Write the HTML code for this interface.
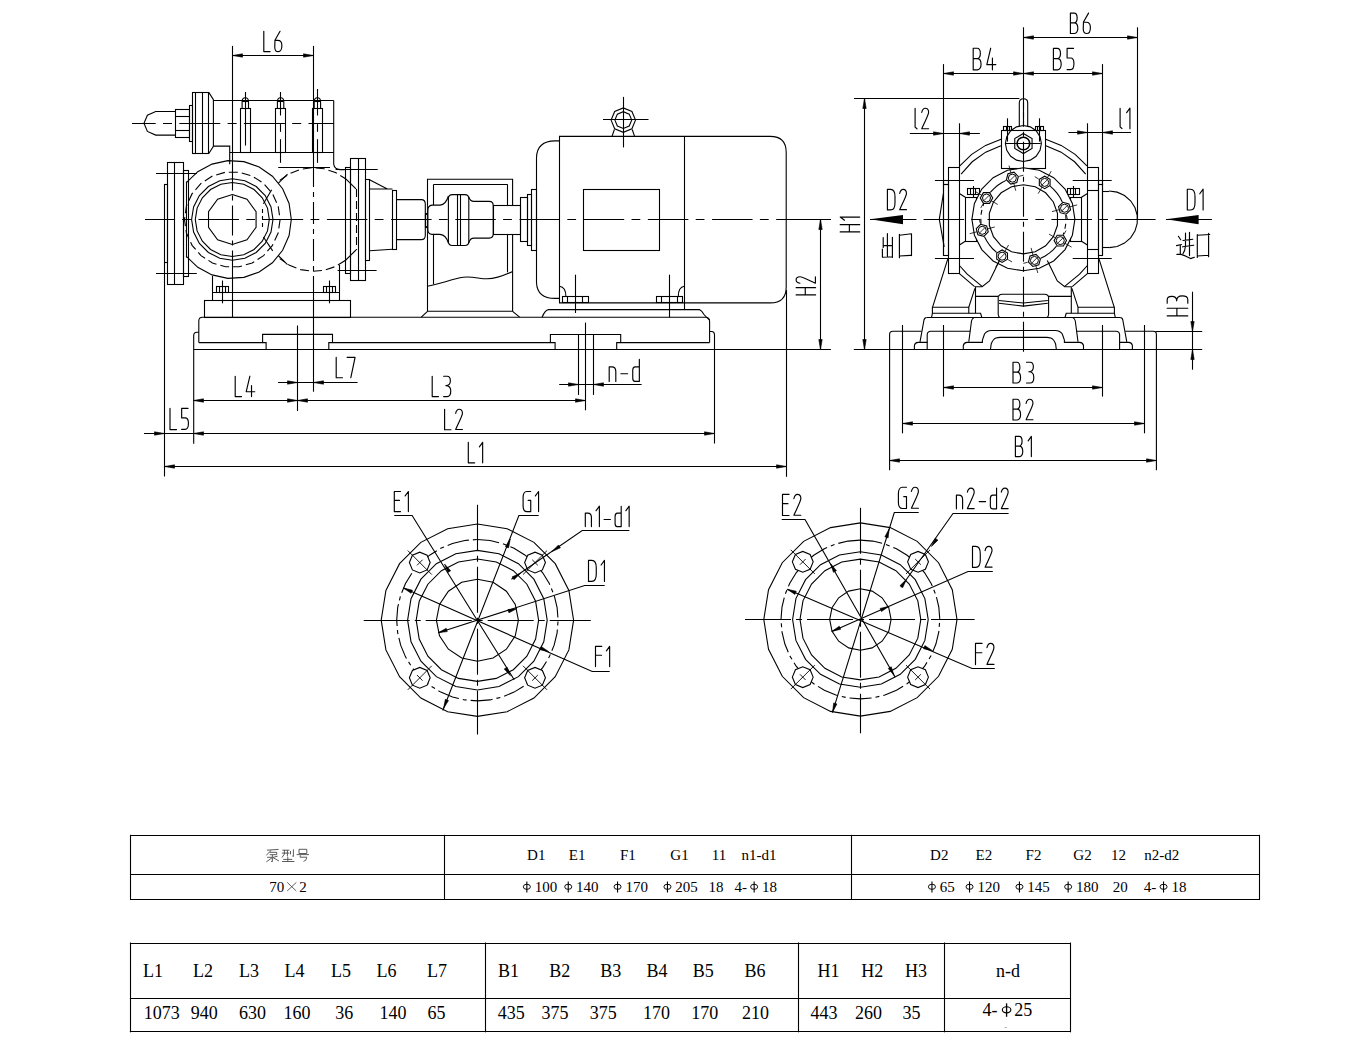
<!DOCTYPE html>
<html><head><meta charset="utf-8"><style>
html,body{margin:0;padding:0;background:#fff;}
body{width:1351px;height:1047px;overflow:hidden;font-family:"Liberation Serif",serif;}
svg{position:absolute;left:0;top:0;}
svg line,svg polyline,svg polygon,svg rect,svg circle,svg path{fill:none;stroke:#000;stroke-width:1.1;}
svg .fa{fill:#000;stroke:#000;stroke-width:0.6;}
svg .tx{stroke-width:1.15;stroke-linecap:round;stroke-linejoin:round;}
svg .ts{fill:#000;stroke:none;font-family:"Liberation Serif",serif;}
svg .cj{stroke:#4a4a4a;stroke-width:0.9;}
</style></head><body>
<svg width="1351" height="1047" viewBox="0 0 1351 1047">
<line x1="145" y1="219.5" x2="830.8" y2="219.5" stroke-dasharray="40.5 7.3 8.8 7.6" stroke-dashoffset="10.7"/>
<line x1="132" y1="123.5" x2="334" y2="123.5" stroke-dasharray="41 7.3 9 7.3" stroke-dashoffset="17.3"/>
<path d="M175.1,111.5 L155.7,111.5 L147.4,115.2 L144,123.3 L147.4,131.4 L155.7,135.1 L175.1,135.1"/>
<rect x="175.5" y="109.5" width="14" height="28"/>
<line x1="175.1" y1="116.5" x2="189.4" y2="116.5"/>
<line x1="175.1" y1="130.5" x2="189.4" y2="130.5"/>
<rect x="189.5" y="105.5" width="3" height="36"/>
<rect x="192.5" y="92.5" width="16" height="61"/>
<line x1="195.5" y1="92.4" x2="195.5" y2="153.5"/>
<line x1="202.5" y1="92.4" x2="202.5" y2="153.5"/>
<path d="M208.8,92.4 L213.4,99.6 L213.4,146.3 L208.8,153.5"/>
<line x1="213.4" y1="100.5" x2="333.7" y2="100.5"/>
<path d="M213.4,146.1 L229.7,146.1 L229.7,164.2"/>
<line x1="229.7" y1="152.5" x2="333.7" y2="152.5"/>
<path d="M333.7,100.4 L333.7,164.2 Q334.5,169.5 340,169.6 L344.8,169.6"/>
<rect x="240.5" y="108.5" width="10" height="44"/>
<path d="M242.1,108.5 L242.1,101.8 Q242.1,97.8 245.3,97.8 Q248.5,97.8 248.5,101.8 L248.5,108.5"/>
<line x1="242.1" y1="101.5" x2="248.5" y2="101.5"/>
<rect x="275.5" y="108.5" width="10" height="44"/>
<path d="M277.4,108.5 L277.4,101.8 Q277.4,97.8 280.6,97.8 Q283.8,97.8 283.8,101.8 L283.8,108.5"/>
<line x1="277.4" y1="101.5" x2="283.8" y2="101.5"/>
<rect x="312.5" y="108.5" width="10" height="44"/>
<path d="M314.2,108.5 L314.2,101.8 Q314.2,97.8 317.4,97.8 Q320.6,97.8 320.6,101.8 L320.6,108.5"/>
<line x1="314.2" y1="101.5" x2="320.6" y2="101.5"/>
<line x1="245.5" y1="92" x2="245.5" y2="145.6"/>
<line x1="280.5" y1="92" x2="280.5" y2="115.5"/>
<line x1="280.5" y1="124.1" x2="280.5" y2="131.8"/>
<line x1="280.5" y1="139.2" x2="280.5" y2="162.8"/>
<line x1="317.5" y1="89" x2="317.5" y2="115.5"/>
<line x1="317.5" y1="124.1" x2="317.5" y2="131.8"/>
<line x1="317.5" y1="139.2" x2="317.5" y2="162.8"/>
<line x1="232.5" y1="45.9" x2="232.5" y2="160.5"/>
<line x1="232.5" y1="160.5" x2="232.5" y2="280" stroke-dasharray="30 5 5 5" stroke-dashoffset="0"/>
<line x1="232.5" y1="280" x2="232.5" y2="317.3"/>
<line x1="313.5" y1="45.9" x2="313.5" y2="165"/>
<line x1="313.5" y1="165" x2="313.5" y2="286" stroke-dasharray="22 5 5 5" stroke-dashoffset="0"/>
<line x1="313.5" y1="286" x2="313.5" y2="391.7"/>
<line x1="232.3" y1="55.5" x2="313.7" y2="55.5"/>
<polygon class="fa" points="232.5,55.5 242.5,53.8 242.5,57.2"/>
<polygon class="fa" points="313.5,55.5 303.5,57.2 303.5,53.8"/>
<path class="tx" d="M 263.8,31.3 L 263.8,51.6 L 270.09,51.6 M 280.04,31.3 L 274.96,40.23 L 274.76,47.13 C 274.76,51.19 276.79,51.6 278.21,51.6 C 280.45,51.6 281.87,49.98 281.87,45.51 C 281.87,41.86 280.24,40.44 277.81,40.44 L 274.96,40.44"/>
<polyline points="186.1,182.8 197.78,171.66 212.04,164.09 227.81,160.67 243.93,161.66 259.17,166.97 272.4,176.22 282.63,188.71 289.09,203.51 291.3,219.5 289.09,235.49 282.63,250.29 272.4,262.78 259.17,272.03 243.93,277.34 227.81,278.33 212.04,274.91 197.78,267.34 186.1,256.2"/>
<line x1="186.5" y1="181.5" x2="186.5" y2="257.6"/>
<polygon points="280.1,219.5 278.16,232.97 272.51,245.34 263.6,255.62 252.16,262.98 239.1,266.81 225.5,266.81 212.44,262.98 201,255.62 192.09,245.34 186.44,232.97 184.5,219.5 186.44,206.03 192.09,193.66 201,183.38 212.44,176.02 225.5,172.19 239.1,172.19 252.16,176.02 263.6,183.38 272.51,193.66 278.16,206.03" stroke-dasharray="9 4"/>
<polygon points="273,219.5 271.01,232.08 265.23,243.42 256.22,252.43 244.88,258.21 232.3,260.2 219.72,258.21 208.38,252.43 199.37,243.42 193.59,232.08 191.6,219.5 193.59,206.92 199.37,195.58 208.38,186.57 219.72,180.79 232.3,178.8 244.88,180.79 256.22,186.57 265.23,195.58 271.01,206.92"/>
<polygon points="269.3,219.5 267.49,230.93 262.23,241.25 254.05,249.43 243.73,254.69 232.3,256.5 220.87,254.69 210.55,249.43 202.37,241.25 197.11,230.93 195.3,219.5 197.11,208.07 202.37,197.75 210.55,189.57 220.87,184.31 232.3,182.5 243.73,184.31 254.05,189.57 262.23,197.75 267.49,208.07"/>
<polygon points="232.3,194.5 246.99,199.27 256.08,211.77 256.08,227.23 246.99,239.73 232.3,244.5 217.61,239.73 208.52,227.23 208.52,211.77 217.61,199.27"/>
<line x1="156" y1="173.5" x2="196.8" y2="173.5"/>
<line x1="156" y1="273.5" x2="196.8" y2="273.5"/>
<path d="M271.7,189.8 L263.4,203.7"/>
<path d="M263.4,237 L272.7,250.9"/>
<line x1="262.5" y1="209" x2="262.5" y2="230" stroke-dasharray="4 3"/>
<polyline points="279.72,180.41 289.51,173.69 300.58,169.39 312.34,167.72 324.17,168.77 335.45,172.49 345.59,178.68" stroke-dasharray="9 4"/>
<polyline points="345.59,260.32 335.45,266.51 324.17,270.23 312.34,271.28 300.58,269.61 289.51,265.31 279.72,258.59" stroke-dasharray="9 4"/>
<path d="M278.2,183.3 L287.5,174.1"/>
<path d="M278.2,255.5 L287.5,264.6"/>
<line x1="278.2" y1="167.5" x2="330" y2="167.5"/>
<path d="M344.8,177.8 L356,188.9"/>
<line x1="356.5" y1="188.9" x2="356.5" y2="250" stroke-dasharray="8 4"/>
<path d="M356,250 L344.8,261"/>
<rect x="167.5" y="162.5" width="16" height="122"/>
<line x1="174.5" y1="162.4" x2="174.5" y2="284.5"/>
<rect x="164.5" y="184.5" width="3" height="78"/>
<rect x="183.5" y="170.5" width="5" height="106"/>
<line x1="164.5" y1="262.9" x2="164.5" y2="476.5"/>
<rect x="350.5" y="158.5" width="15" height="122"/>
<line x1="358.5" y1="158.3" x2="358.5" y2="280.5"/>
<rect x="345.5" y="167.5" width="5" height="106"/>
<rect x="365.5" y="179.5" width="4" height="81"/>
<line x1="335.6" y1="169.5" x2="377.7" y2="169.5"/>
<line x1="337.6" y1="270.5" x2="376.6" y2="270.5"/>
<line x1="212.5" y1="276" x2="212.5" y2="300.4"/>
<line x1="339.5" y1="265" x2="339.5" y2="300.4"/>
<line x1="212.5" y1="292.5" x2="339.5" y2="292.5"/>
<rect x="204.5" y="300.5" width="146" height="17"/>
<line x1="222.5" y1="280.5" x2="222.5" y2="303.3"/>
<rect x="216.5" y="286.5" width="12" height="6"/>
<line x1="219.5" y1="286.3" x2="219.5" y2="292.5"/>
<line x1="225.5" y1="286.3" x2="225.5" y2="292.5"/>
<line x1="329.5" y1="280.5" x2="329.5" y2="303.3"/>
<rect x="323.5" y="286.5" width="12" height="6"/>
<line x1="326.5" y1="286.3" x2="326.5" y2="292.5"/>
<line x1="332.5" y1="286.3" x2="332.5" y2="292.5"/>
<path d="M369.5,179.8 L387.4,189 M369.5,189 L392.5,189 M369.5,250.7 L392.5,249.3"/>
<rect x="392.5" y="190.5" width="4" height="59"/>
<path d="M396.6,199.6 L421.3,199.6 Q425.3,199.6 425.3,204 L425.3,235.2 Q425.3,239.6 421.3,239.6 L396.6,239.6"/>
<rect x="425.5" y="213.5" width="2" height="14"/>
<path d="M427.5,311.3 L427.5,179.2 L512.6,179.2 L512.6,311.3 Z"/>
<path d="M421.3,317.2 L427.5,311.3 M512.6,311.3 L519.6,317.2"/>
<line x1="433.5" y1="184.4" x2="433.5" y2="284.3"/>
<line x1="507.5" y1="184.4" x2="507.5" y2="272.3"/>
<line x1="433.6" y1="184.5" x2="507.6" y2="184.5"/>
<path d="M427.5,286.2 C440,284 452,279 463.2,277.3 C472,276 480,279 487.3,278.8 C496,278.5 505,275 512.6,271.4"/>
<path d="M427.9,205.1 L448.4,205.1 L448.4,234.4 L427.9,234.4 Z M448.4,194.6 L468.8,194.6 L468.8,245.5 L448.4,245.5 Z M468.8,201.4 L493.2,201.4 L493.2,238.1 L468.8,238.1 Z M493.2,205.1 L520.6,205.1 L520.6,234.4 L493.2,234.4 Z" style="fill:#fff;stroke:none;"/>
<line x1="427.9" y1="219.5" x2="520.6" y2="219.5" stroke-dasharray="40.5 7.3 8.8 7.6" stroke-dashoffset="293.6"/>
<path d="M448.4,196 Q446,204.5 440,205.1 L432,205.1 Q428,205.5 427.9,210 L427.9,230 Q428,234 432,234.4 L440,234.4 Q446,235 448.4,243"/>
<path d="M452.5,194.6 L464.8,194.6 Q468.8,194.6 468.8,198.6 L468.8,241.5 Q468.8,245.5 464.8,245.5 L452.5,245.5 Q448.4,245.5 448.4,241.5 L448.4,198.6 Q448.4,194.6 452.5,194.6 Z"/>
<line x1="457.5" y1="194.6" x2="457.5" y2="245.5"/>
<line x1="460.5" y1="194.6" x2="460.5" y2="245.5"/>
<path d="M468.8,197 Q470,201.4 474,201.4 L489.2,201.4 Q493.2,201.4 493.2,205.4 L493.2,234.1 Q493.2,238.1 489.2,238.1 L474,238.1 Q470,238.1 468.8,243"/>
<rect x="493.5" y="205.5" width="27" height="29"/>
<rect x="520.5" y="197.5" width="7" height="44"/>
<rect x="527.5" y="194.5" width="4" height="51"/>
<rect x="531.5" y="189.5" width="5" height="61"/>
<path d="M536.5,250 L536.5,157.7 C536.8,146 543,141 555,140.9 L559.5,140.9 M536.5,250 L536.5,282.7 C537,293 543,298.4 555,298.4 L559.5,298.4"/>
<path d="M559.5,136.4 L770.2,136.4 Q786.2,136.4 786.2,152.4 L786.2,286.9 Q786.2,302.9 770.2,302.9 L559.5,302.9 Z"/>
<line x1="684.5" y1="136.4" x2="684.5" y2="309.1"/>
<rect x="583.5" y="189.5" width="76" height="61"/>
<polygon points="635.5,120.1 631.93,128.73 623.3,132.3 614.67,128.73 611.1,120.1 614.67,111.47 623.3,107.9 631.93,111.47"/>
<polygon points="631.7,120.1 629.24,126.04 623.3,128.5 617.36,126.04 614.9,120.1 617.36,114.16 623.3,111.7 629.24,114.16"/>
<line x1="603" y1="119.5" x2="648.5" y2="119.5"/>
<line x1="623.5" y1="96.9" x2="623.5" y2="147.4"/>
<path d="M612,136.4 L614.4,129.5 M634.6,136.4 L632.2,129.5"/>
<path d="M559.5,286.2 Q565.9,287 565.9,296.5"/>
<path d="M684.3,286.2 Q678.3,287 678.3,296.5"/>
<rect x="562.5" y="296.5" width="26" height="6"/>
<line x1="567.5" y1="296.5" x2="567.5" y2="302.9"/>
<line x1="582.5" y1="296.5" x2="582.5" y2="302.9"/>
<line x1="575.5" y1="274.7" x2="575.5" y2="313"/>
<rect x="656.5" y="296.5" width="26" height="6"/>
<line x1="661.5" y1="296.5" x2="661.5" y2="302.9"/>
<line x1="677.5" y1="296.5" x2="677.5" y2="302.9"/>
<line x1="669.5" y1="274.7" x2="669.5" y2="317.2"/>
<path d="M542.1,317.2 Q545,310 548.5,309.6 L699.4,309.6 Q702,311 704,314.5 Q706,317 709.6,320"/>
<path d="M198.8,342.6 L198.8,321 Q198.8,317.3 202.5,317.3 L705.5,317.3 Q709.6,317.3 709.6,321.5 L709.6,342.6"/>
<path d="M193.7,443.7 L193.7,335.5 Q193.7,332.2 197,332.2 L198.8,332.2"/>
<path d="M709.6,331.5 L711.5,331.5 Q714.5,331.5 714.5,335 L714.5,443.4"/>
<line x1="193.7" y1="349.5" x2="714.5" y2="349.5"/>
<path d="M198.8,342.6 L266.1,342.6 L266.1,349.5 M262.6,342.6 L262.6,334.4 L332.5,334.4 L332.5,342.6 M328.8,349.5 L328.8,342.6 L555.1,342.6 L555.1,349.5"/>
<path d="M550.4,342.6 L550.4,334.5 L620.7,334.5 L620.7,342.6 M616.7,349.5 L616.7,342.6 L709.6,342.6"/>
<line x1="297.5" y1="325.5" x2="297.5" y2="411"/>
<line x1="585.5" y1="322.6" x2="585.5" y2="410.3"/>
<line x1="578.5" y1="334.5" x2="578.5" y2="394.9"/>
<line x1="593.5" y1="334.5" x2="593.5" y2="394.9"/>
<line x1="714.5" y1="349.5" x2="830.9" y2="349.5"/>
<line x1="786.5" y1="290" x2="786.5" y2="476.8"/>
<line x1="278.1" y1="382.5" x2="357.6" y2="382.5"/>
<polygon class="fa" points="297.5,382.5 287.5,384.2 287.5,380.8"/>
<polygon class="fa" points="313.5,382.5 323.5,380.8 323.5,384.2"/>
<path class="tx" d="M 336.2,357.4 L 336.2,377.7 L 342.49,377.7 M 347.16,357.4 L 355.08,357.4 L 350.82,377.7"/>
<line x1="193.7" y1="400.5" x2="585.5" y2="400.5"/>
<polygon class="fa" points="193.5,400.5 203.5,398.8 203.5,402.2"/>
<polygon class="fa" points="297.5,400.5 287.5,402.2 287.5,398.8"/>
<polygon class="fa" points="297.5,400.5 307.5,398.8 307.5,402.2"/>
<polygon class="fa" points="585.5,400.5 575.5,402.2 575.5,398.8"/>
<path class="tx" d="M 235.2,376.2 L 235.2,396.6 L 241.52,396.6 M 249.89,376.2 L 246.22,391.7 L 254.78,391.7 M 251.52,385.58 L 251.52,396.6"/>
<path class="tx" d="M 432.2,376.2 L 432.2,396.6 L 438.52,396.6 M 443.62,376.2 L 447.09,376.2 C 449.34,376.2 450.36,378.24 450.36,380.69 C 450.36,383.54 448.72,385.58 445.87,385.58 M 445.87,385.58 C 449.13,385.58 450.76,387.83 450.76,391.09 C 450.76,394.97 449.13,396.6 447.09,396.6 L 443.62,396.6"/>
<line x1="559.2" y1="384.5" x2="641.6" y2="384.5"/>
<polygon class="fa" points="578.5,384.5 568.5,386.2 568.5,382.8"/>
<polygon class="fa" points="593.5,384.5 603.5,382.8 603.5,386.2"/>
<path class="tx" d="M 609.2,366.88 L 609.2,381.4 M 609.2,366.88 L 611.84,366.88 C 614.04,366.88 615.8,368.2 615.8,371.5 L 615.8,381.4 M 620.86,373.7 L 627.68,373.7 M 639.34,359.4 L 639.34,381.4 L 634.94,381.4 C 633.4,381.4 632.74,379.86 632.74,378.1 L 632.74,370.4 C 632.74,368.2 633.84,366.88 635.38,366.88 L 639.34,366.88"/>
<line x1="144" y1="433.5" x2="714.5" y2="433.5"/>
<polygon class="fa" points="164.5,433.5 154.5,435.2 154.5,431.8"/>
<polygon class="fa" points="193.5,433.5 203.5,431.8 203.5,435.2"/>
<polygon class="fa" points="714.5,433.5 704.5,435.2 704.5,431.8"/>
<path class="tx" d="M 170,408.4 L 170,429.6 L 176.57,429.6 M 188.02,408.4 L 181.66,408.4 L 181.66,417.94 L 185.05,417.94 C 187.17,417.94 188.44,420.06 188.44,423.24 C 188.44,427.06 187.17,429.39 185.05,429.39 L 181.66,429.39"/>
<path class="tx" d="M 444.6,409.2 L 444.6,429.7 L 450.96,429.7 M 455.67,413.3 C 456.29,410.43 457.72,409.2 459.16,409.2 C 461.21,409.2 462.44,410.84 462.44,413.3 C 462.44,415.96 457.72,424.57 455.67,429.5 L 462.44,429.5"/>
<line x1="164.4" y1="466.5" x2="786.3" y2="466.5"/>
<polygon class="fa" points="164.5,466.5 174.5,464.8 174.5,468.2"/>
<polygon class="fa" points="786.5,466.5 776.5,468.2 776.5,464.8"/>
<path class="tx" d="M 468.3,442.3 L 468.3,462.8 L 474.66,462.8 M 479.37,446.81 L 482.65,442.3 L 482.65,462.8"/>
<line x1="820.5" y1="219.5" x2="820.5" y2="349.3"/>
<polygon class="fa" points="820.5,219.5 822.2,229.5 818.8,229.5"/>
<polygon class="fa" points="820.5,349.5 818.8,339.5 822.2,339.5"/>
<path class="tx" d="M 796.1,294.9 L 815.6,294.9 M 796.1,287.69 L 815.6,287.69 M 805.26,294.9 L 805.26,287.69 M 800,283.2 C 797.27,282.62 796.1,281.25 796.1,279.88 C 796.1,277.94 797.66,276.76 800,276.76 C 802.53,276.76 810.73,281.25 815.4,283.2 L 815.4,276.76"/>
<line x1="776.6" y1="219.5" x2="830.8" y2="219.5"/>
<line x1="1023.5" y1="27.3" x2="1023.5" y2="98.8"/>
<line x1="1023.5" y1="98.8" x2="1023.5" y2="353" stroke-dasharray="30 5 5 5" stroke-dashoffset="2"/>
<line x1="921.5" y1="219.5" x2="1155.6" y2="219.5" stroke-dasharray="40.6 7.3 8.7 7.3" stroke-dashoffset="61.8"/>
<line x1="870" y1="219.5" x2="916.4" y2="219.5"/>
<path d="M870,219.3 L903,214.9 L903,224.2 Z" style="fill:#000;stroke:none;"/>
<line x1="1165.9" y1="219.5" x2="1211.9" y2="219.5"/>
<path d="M1165.9,219.3 L1198.6,214.9 L1198.6,224.2 Z" style="fill:#000;stroke:none;"/>
<path class="tx" d="M 887.4,189.4 L 887.4,209.9 L 890.68,209.9 C 893.55,209.9 894.99,206.83 894.99,202.72 L 894.99,196.58 C 894.99,192.47 893.55,189.4 890.68,189.4 Z M 899.7,193.5 C 900.31,190.63 901.75,189.4 903.18,189.4 C 905.23,189.4 906.46,191.04 906.46,193.5 C 906.46,196.17 901.75,204.78 899.7,209.69 L 906.46,209.69"/>
<path class="tx" d="M 1187.3,189.2 L 1187.3,210 L 1190.63,210 C 1193.54,210 1195,206.88 1195,202.72 L 1195,196.48 C 1195,192.32 1193.54,189.2 1190.63,189.2 Z M 1199.78,193.78 L 1203.11,189.2 L 1203.11,210"/>
<line x1="1137.5" y1="27.3" x2="1137.5" y2="219.3"/>
<line x1="943.5" y1="64.1" x2="943.5" y2="255.6"/>
<line x1="1102.5" y1="64.1" x2="1102.5" y2="255.3"/>
<line x1="959.5" y1="123.3" x2="959.5" y2="167.4"/>
<line x1="1087.5" y1="123.3" x2="1087.5" y2="167.4"/>
<line x1="1023.4" y1="37.5" x2="1137.6" y2="37.5"/>
<polygon class="fa" points="1023.5,37.5 1033.5,35.8 1033.5,39.2"/>
<polygon class="fa" points="1137.5,37.5 1127.5,39.2 1127.5,35.8"/>
<path class="tx" d="M 1070.4,13.1 L 1070.4,33.5 L 1074.48,33.5 C 1078.97,33.5 1078.97,22.89 1074.28,22.89 L 1070.4,22.89 M 1070.4,13.1 L 1074.07,13.1 C 1078.15,13.1 1078.15,22.89 1074.28,22.89 M 1088.56,13.1 L 1083.46,22.08 L 1083.25,29.01 C 1083.25,33.09 1085.29,33.5 1086.72,33.5 C 1088.96,33.5 1090.39,31.87 1090.39,27.38 C 1090.39,23.71 1088.76,22.28 1086.31,22.28 L 1083.46,22.28"/>
<line x1="943.5" y1="73.5" x2="1102.4" y2="73.5"/>
<polygon class="fa" points="943.5,73.5 953.5,71.8 953.5,75.2"/>
<polygon class="fa" points="1023.5,73.5 1013.5,75.2 1013.5,71.8"/>
<polygon class="fa" points="1023.5,73.5 1033.5,71.8 1033.5,75.2"/>
<polygon class="fa" points="1102.5,73.5 1092.5,75.2 1092.5,71.8"/>
<path class="tx" d="M 973.2,48.2 L 973.2,69.8 L 977.52,69.8 C 982.27,69.8 982.27,58.57 977.3,58.57 L 973.2,58.57 M 973.2,48.2 L 977.09,48.2 C 981.41,48.2 981.41,58.57 977.3,58.57 M 990.7,48.2 L 986.81,64.62 L 995.88,64.62 M 992.42,58.14 L 992.42,69.8"/>
<path class="tx" d="M 1053.4,48.4 L 1053.4,69.8 L 1057.68,69.8 C 1062.39,69.8 1062.39,58.67 1057.47,58.67 L 1053.4,58.67 M 1053.4,48.4 L 1057.25,48.4 C 1061.53,48.4 1061.53,58.67 1057.47,58.67 M 1073.52,48.4 L 1067.1,48.4 L 1067.1,58.03 L 1070.52,58.03 C 1072.66,58.03 1073.94,60.17 1073.94,63.38 C 1073.94,67.23 1072.66,69.59 1070.52,69.59 L 1067.1,69.59"/>
<line x1="909.8" y1="133.5" x2="979.8" y2="133.5"/>
<polygon class="fa" points="943.5,133.5 933.5,135.2 933.5,131.8"/>
<polygon class="fa" points="959.5,133.5 969.5,131.8 969.5,135.2"/>
<path class="tx" d="M 915.1,108.2 L 915.1,127.13 L 916.97,128.79 M 921.76,112.36 C 922.38,109.45 923.84,108.2 925.29,108.2 C 927.37,108.2 928.62,109.86 928.62,112.36 C 928.62,115.06 923.84,123.8 921.76,128.79 L 928.62,128.79"/>
<line x1="1068.4" y1="132.5" x2="1131.1" y2="132.5"/>
<polygon class="fa" points="1087.5,132.5 1077.5,134.2 1077.5,130.8"/>
<polygon class="fa" points="1102.5,132.5 1112.5,130.8 1112.5,134.2"/>
<path class="tx" d="M 1120.1,108.2 L 1120.1,126.86 L 1121.94,128.5 M 1126.66,112.71 L 1129.94,108.2 L 1129.94,128.7"/>
<line x1="854" y1="98.5" x2="1019.4" y2="98.5"/>
<line x1="864.5" y1="98.6" x2="864.5" y2="349.3"/>
<polygon class="fa" points="864.5,98.5 866.2,108.5 862.8,108.5"/>
<polygon class="fa" points="864.5,349.5 862.8,339.5 866.2,339.5"/>
<path class="tx" d="M 840.2,231.9 L 859.7,231.9 M 840.2,224.69 L 859.7,224.69 M 849.37,231.9 L 849.37,224.69 M 844.49,220.2 L 840.2,217.08 L 859.7,217.08"/>
<line x1="853.8" y1="349.5" x2="1202.2" y2="349.5"/>
<line x1="1155.6" y1="331.5" x2="1202.2" y2="331.5"/>
<line x1="1192.5" y1="291.7" x2="1192.5" y2="369.7"/>
<polygon class="fa" points="1192.5,331.5 1190.8,321.5 1194.2,321.5"/>
<polygon class="fa" points="1192.5,349.5 1194.2,359.5 1190.8,359.5"/>
<path class="tx" d="M 1167.2,315.9 L 1187.8,315.9 M 1167.2,308.28 L 1187.8,308.28 M 1176.88,315.9 L 1176.88,308.28 M 1167.2,303.13 L 1167.2,299.63 C 1167.2,297.36 1169.26,296.33 1171.73,296.33 C 1174.62,296.33 1176.68,297.98 1176.68,300.86 M 1176.68,300.86 C 1176.68,297.57 1178.94,295.92 1182.24,295.92 C 1186.15,295.92 1187.8,297.57 1187.8,299.63 L 1187.8,303.13"/>
<path d="M1019.3,125.9 L1019.3,102.9 Q1019.3,98.8 1023.5,98.8 Q1027.7,98.8 1027.7,102.9 L1027.7,125.9"/>
<line x1="1023.5" y1="103" x2="1023.5" y2="125.9" stroke-dasharray="6 3"/>
<rect x="1001.5" y="130.5" width="44" height="38"/>
<polygon points="1041.4,143.5 1040.03,150.39 1036.13,156.23 1030.29,160.13 1023.4,161.5 1016.51,160.13 1010.67,156.23 1006.77,150.39 1005.4,143.5 1006.77,136.61 1010.67,130.77 1016.51,126.87 1023.4,125.5 1030.29,126.87 1036.13,130.77 1040.03,136.61"/>
<polygon points="1023.4,133.5 1032.06,138.5 1032.06,148.5 1023.4,153.5 1014.74,148.5 1014.74,138.5"/>
<circle cx="1023.4" cy="143.5" r="6.3" style="stroke-width:1.6"/>
<line x1="1006" y1="143.5" x2="1040.7" y2="143.5"/>
<line x1="1007.5" y1="118.3" x2="1007.5" y2="141.6"/>
<rect x="1003.5" y="126.5" width="8" height="4"/>
<line x1="1006.5" y1="126.5" x2="1006.5" y2="130.3"/>
<line x1="1009.5" y1="126.5" x2="1009.5" y2="130.3"/>
<line x1="1039.5" y1="118.3" x2="1039.5" y2="141.6"/>
<rect x="1035.5" y="126.5" width="8" height="4"/>
<line x1="1037.5" y1="126.5" x2="1037.5" y2="130.3"/>
<line x1="1040.5" y1="126.5" x2="1040.5" y2="130.3"/>
<polyline points="1001.08,139.36 985.63,145.39 971.69,154.37 959.82,165.95"/>
<polyline points="1045.72,139.36 1061.17,145.39 1075.11,154.37 1086.98,165.95"/>
<polyline points="1000.89,145.66 985.68,152.17 972.21,161.78 961.11,174.04"/>
<polyline points="1045.91,145.66 1061.12,152.17 1074.59,161.78 1085.69,174.04"/>
<rect x="948.5" y="167.5" width="11" height="106"/>
<rect x="1087.5" y="167.5" width="11" height="106"/>
<rect x="943.5" y="184.5" width="5" height="71"/>
<rect x="943.5" y="180.5" width="5" height="4"/>
<rect x="1098.5" y="184.5" width="4" height="71"/>
<rect x="1098.5" y="180.5" width="4" height="4"/>
<line x1="1087.5" y1="190.5" x2="1098.4" y2="190.5"/>
<line x1="1087.5" y1="249.5" x2="1098.4" y2="249.5"/>
<line x1="934.9" y1="180.5" x2="974" y2="180.5"/>
<line x1="934.9" y1="258.5" x2="974" y2="258.5"/>
<line x1="1072.7" y1="180.5" x2="1111.7" y2="180.5"/>
<line x1="1072.7" y1="258.5" x2="1111.7" y2="258.5"/>
<path d="M943.4,193.5 L939.3,219.3 L944.2,246.9"/>
<polyline points="1109.2,191 1117.17,192.15 1124.5,195.49 1130.59,200.77 1134.94,207.54 1137.21,215.27 1137.21,223.33 1134.94,231.06 1130.59,237.83 1124.5,243.11 1117.17,246.45 1109.2,247.6"/>
<line x1="1102.4" y1="191.5" x2="1109.2" y2="191.5"/>
<line x1="1102.4" y1="247.5" x2="1109.2" y2="247.5"/>
<rect x="965.5" y="197.5" width="11" height="44"/>
<rect x="1070.5" y="197.5" width="11" height="44"/>
<rect x="967.5" y="188.5" width="12" height="6"/>
<line x1="970.5" y1="188.3" x2="970.5" y2="194.1"/>
<line x1="975.5" y1="188.3" x2="975.5" y2="194.1"/>
<line x1="973.5" y1="186" x2="973.5" y2="197.2"/>
<rect x="1067.5" y="188.5" width="12" height="6"/>
<line x1="1070.5" y1="188.3" x2="1070.5" y2="194.1"/>
<line x1="1075.5" y1="188.3" x2="1075.5" y2="194.1"/>
<line x1="1073.5" y1="186" x2="1073.5" y2="197.2"/>
<path d="M959.4,193.5 L965.3,197.2 M959.4,245 L965.3,241.3"/>
<path d="M 1087.4,193.5 L 1081.5,197.2 M 1087.4,245 L 1081.5,241.3"/>
<polygon points="1023.4,167.8 1039.31,170.32 1053.67,177.64 1065.06,189.03 1072.38,203.39 1074.9,219.3 1072.38,235.21 1065.06,249.57 1053.67,260.96 1039.31,268.28 1023.4,270.8 1007.49,268.28 993.13,260.96 981.74,249.57 974.42,235.21 971.9,219.3 974.42,203.39 981.74,189.03 993.13,177.64 1007.49,170.32" style="fill:#fff"/>
<line x1="1023.5" y1="167.3" x2="1023.5" y2="271.3" stroke-dasharray="30 5 5 5" stroke-dashoffset="70.5"/>
<line x1="971.4" y1="219.5" x2="1075.4" y2="219.5" stroke-dasharray="40.6 7.3 8.7 7.3" stroke-dashoffset="111.7"/>
<polygon points="1023.4,184.7 1035.23,186.79 1045.64,192.79 1053.36,202 1057.47,213.29 1057.47,225.31 1053.36,236.6 1045.64,245.81 1035.23,251.81 1023.4,253.9 1011.57,251.81 1001.16,245.81 993.44,236.6 989.33,225.31 989.33,213.29 993.44,202 1001.16,192.79 1011.57,186.79"/>
<polyline points="990.29,192.49 993.67,188.79 997.47,185.5 1001.62,182.69 1006.07,180.38"/>
<polyline points="1050.21,186.19 1053.91,189.57 1057.2,193.37 1060.01,197.52 1062.32,201.97"/>
<polyline points="1056.51,246.11 1053.13,249.81 1049.33,253.1 1045.18,255.91 1040.73,258.22"/>
<polyline points="996.59,252.41 992.89,249.03 989.6,245.23 986.79,241.08 984.48,236.63"/>
<polyline points="981.03,223.75 980.8,218.74 981.16,213.74 982.11,208.81 983.63,204.03" stroke-dasharray="5 4"/>
<polyline points="1065.77,214.85 1066,219.86 1065.64,224.86 1064.69,229.79 1063.17,234.57" stroke-dasharray="5 4"/>
<line x1="1015.74" y1="190.71" x2="1009.01" y2="165.59" style="stroke-width:0.8"/>
<line x1="1019.14" y1="176.34" x2="1023.48" y2="175.18" style="stroke-width:0.8"/>
<polygon points="1013.98,172.16 1018.36,176.55 1016.76,182.54 1010.77,184.14 1006.39,179.76 1007.99,173.77" style="fill:#fff"/>
<circle cx="1012.37" cy="178.15" r="4" style="stroke-width:1.0"/>
<line x1="1009.57" y1="180.95" x2="1015.17" y2="175.35" style="stroke-width:0.8"/>
<line x1="1038.2" y1="193.67" x2="1051.2" y2="171.15" style="stroke-width:0.8"/>
<line x1="1038.64" y1="178.91" x2="1034.74" y2="176.66" style="stroke-width:0.8"/>
<polygon points="1050.07,179.31 1050.07,185.51 1044.7,188.61 1039.33,185.51 1039.33,179.31 1044.7,176.21" style="fill:#fff"/>
<circle cx="1044.7" cy="182.41" r="4" style="stroke-width:1.0"/>
<line x1="1041.9" y1="185.21" x2="1047.5" y2="179.61" style="stroke-width:0.8"/>
<line x1="1051.99" y1="211.64" x2="1077.11" y2="204.91" style="stroke-width:0.8"/>
<line x1="1066.36" y1="215.04" x2="1067.52" y2="219.38" style="stroke-width:0.8"/>
<polygon points="1070.54,209.88 1066.15,214.26 1060.16,212.66 1058.56,206.67 1062.94,202.29 1068.93,203.89" style="fill:#fff"/>
<circle cx="1064.55" cy="208.27" r="4" style="stroke-width:1.0"/>
<line x1="1061.75" y1="211.07" x2="1067.35" y2="205.47" style="stroke-width:0.8"/>
<line x1="1049.03" y1="234.1" x2="1071.55" y2="247.1" style="stroke-width:0.8"/>
<line x1="1063.79" y1="234.54" x2="1066.04" y2="230.64" style="stroke-width:0.8"/>
<polygon points="1063.39,245.97 1057.19,245.97 1054.09,240.6 1057.19,235.23 1063.39,235.23 1066.49,240.6" style="fill:#fff"/>
<circle cx="1060.29" cy="240.6" r="4" style="stroke-width:1.0"/>
<line x1="1057.49" y1="243.4" x2="1063.09" y2="237.8" style="stroke-width:0.8"/>
<line x1="1031.06" y1="247.89" x2="1037.79" y2="273.01" style="stroke-width:0.8"/>
<line x1="1027.66" y1="262.26" x2="1023.32" y2="263.42" style="stroke-width:0.8"/>
<polygon points="1032.82,266.44 1028.44,262.05 1030.04,256.06 1036.03,254.46 1040.41,258.84 1038.81,264.83" style="fill:#fff"/>
<circle cx="1034.43" cy="260.45" r="4" style="stroke-width:1.0"/>
<line x1="1031.63" y1="263.25" x2="1037.23" y2="257.65" style="stroke-width:0.8"/>
<line x1="1008.6" y1="244.93" x2="995.6" y2="267.45" style="stroke-width:0.8"/>
<line x1="1008.16" y1="259.69" x2="1012.06" y2="261.94" style="stroke-width:0.8"/>
<polygon points="996.73,259.29 996.73,253.09 1002.1,249.99 1007.47,253.09 1007.47,259.29 1002.1,262.39" style="fill:#fff"/>
<circle cx="1002.1" cy="256.19" r="4" style="stroke-width:1.0"/>
<line x1="999.3" y1="258.99" x2="1004.9" y2="253.39" style="stroke-width:0.8"/>
<line x1="994.81" y1="226.96" x2="969.69" y2="233.69" style="stroke-width:0.8"/>
<line x1="980.44" y1="223.56" x2="979.28" y2="219.22" style="stroke-width:0.8"/>
<polygon points="976.26,228.72 980.65,224.34 986.64,225.94 988.24,231.93 983.86,236.31 977.87,234.71" style="fill:#fff"/>
<circle cx="982.25" cy="230.33" r="4" style="stroke-width:1.0"/>
<line x1="979.45" y1="233.13" x2="985.05" y2="227.53" style="stroke-width:0.8"/>
<line x1="997.77" y1="204.5" x2="975.25" y2="191.5" style="stroke-width:0.8"/>
<line x1="983.01" y1="204.06" x2="980.76" y2="207.96" style="stroke-width:0.8"/>
<polygon points="983.41,192.63 989.61,192.63 992.71,198 989.61,203.37 983.41,203.37 980.31,198" style="fill:#fff"/>
<circle cx="986.51" cy="198" r="4" style="stroke-width:1.0"/>
<line x1="983.71" y1="200.8" x2="989.31" y2="195.2" style="stroke-width:0.8"/>
<path d="M959.4,265.5 L967.2,274.2 L982.1,286.4 M959.4,273.6 L974.6,286.6"/>
<path d="M 1087.4,265.5 L 1079.6,274.2 L 1064.7,286.4 M 1087.4,273.6 L 1072.2,286.6"/>
<path d="M999.5,260.5 L989.5,281 L982.1,286.7 L975.5,286.7 L975.5,313.3"/>
<path d="M 1047.3,260.5 L 1057.3,281 L 1064.7,286.7 L 1071.3,286.7 L 1071.3,313.3"/>
<path d="M947.8,258.8 L932.6,307.2 M974.9,288.3 L968.8,307.2"/>
<path d="M 1099,258.8 L 1114.2,307.2 M 1071.9,288.3 L 1078,307.2"/>
<path d="M932.4,313.3 L932.4,307.2 L968.8,307.2 L968.8,313.3"/>
<path d="M 1114.4,313.3 L 1114.4,307.2 L 1078,307.2 L 1078,313.3"/>
<path d="M931.5,317.5 L932.4,313.3 L980.6,313.3 L981.8,317.5"/>
<path d="M 1115.3,317.5 L 1114.4,313.3 L 1066.2,313.3 L 1065,317.5"/>
<line x1="926.6" y1="317.5" x2="1120.2" y2="317.5"/>
<path d="M926.6,317.5 Q924.2,317.8 923.9,320.5 L920,341.8"/>
<path d="M 1120.2,317.5 Q 1122.6,317.8 1122.9,320.5 L 1126.8,341.8"/>
<path d="M914.4,349.3 L914.4,345.5 Q915,342.6 918,342.4 L927.2,342.4 L927.2,349.3"/>
<path d="M 1132.4,349.3 L 1132.4,345.5 Q 1131.8,342.6 1128.8,342.4 L 1119.6,342.4 L 1119.6,349.3"/>
<path d="M927.2,342.4 L927.2,334.5 Q927.6,331.3 930.8,331.3 L970.2,331.3"/>
<path d="M 1119.6,342.4 L 1119.6,334.5 Q 1119.2,331.3 1116,331.3 L 1076.6,331.3"/>
<path d="M973.8,317.7 Q972,318.5 971.5,321 L968.8,341.8"/>
<path d="M 1073,317.7 Q 1074.8,318.5 1075.3,321 L 1078,341.8"/>
<path d="M963.3,349.3 L963.3,345.5 Q964,342.6 967,342.4 L982.4,342.4 L982.4,340 L984.5,334 Q986.5,330.8 991.6,330.5 L1023.4,330.5"/>
<path d="M 1083.5,349.3 L 1083.5,345.5 Q 1082.8,342.6 1079.8,342.4 L 1064.4,342.4 L 1064.4,340 L 1062.3,334 Q 1060.3,330.8 1055.2,330.5 L 1023.4,330.5"/>
<path d="M990.5,349.3 L991.2,344 Q993,339 996,338 Q998,337.4 1000,337.4 L1023.4,337.4"/>
<path d="M 1056.3,349.3 L 1055.6,344 Q 1053.8,339 1050.8,338 Q 1048.8,337.4 1046.8,337.4 L 1023.4,337.4"/>
<path d="M889.6,470.3 L889.6,334.5 Q889.6,331.3 892.8,331.3 L921.6,331.3"/>
<path d="M1156.4,470.3 L1156.4,334.5 Q1156.4,331.3 1153.2,331.3 L1125.2,331.3"/>
<path d="M975.5,296.4 L998.2,296.4 L998.2,314.5 Q998.5,317 1000,317.5"/>
<path d="M 1071.3,296.4 L 1048.6,296.4 L 1048.6,314.5 Q 1048.3,317 1046.8,317.5"/>
<path d="M998.6,296.5 Q999,294.2 1002,294.2 L1023.4,294.2"/>
<path d="M 1048.2,296.5 Q 1047.8,294.2 1044.8,294.2 L 1023.4,294.2"/>
<path d="M999,300.5 L1023.4,303"/>
<path d="M 1047.8,300.5 L 1023.4,303"/>
<path d="M999,303.3 L1023.4,306.1"/>
<path d="M 1047.8,303.3 L 1023.4,306.1"/>
<line x1="902.5" y1="325" x2="902.5" y2="433.3"/>
<line x1="1144.5" y1="325" x2="1144.5" y2="433.3"/>
<line x1="943.5" y1="325" x2="943.5" y2="396.6"/>
<line x1="1102.5" y1="325" x2="1102.5" y2="396.6"/>
<line x1="943.5" y1="387.5" x2="1102.4" y2="387.5"/>
<polygon class="fa" points="943.5,387.5 953.5,385.8 953.5,389.2"/>
<polygon class="fa" points="1102.5,387.5 1092.5,389.2 1092.5,385.8"/>
<line x1="902.5" y1="423.5" x2="1144.3" y2="423.5"/>
<polygon class="fa" points="902.5,423.5 912.5,421.8 912.5,425.2"/>
<polygon class="fa" points="1144.5,423.5 1134.5,425.2 1134.5,421.8"/>
<line x1="889.6" y1="460.5" x2="1156.4" y2="460.5"/>
<polygon class="fa" points="889.5,460.5 899.5,458.8 899.5,462.2"/>
<polygon class="fa" points="1156.5,460.5 1146.5,462.2 1146.5,458.8"/>
<path class="tx" d="M 1013,362.2 L 1013,383 L 1017.16,383 C 1021.74,383 1021.74,372.18 1016.95,372.18 L 1013,372.18 M 1013,362.2 L 1016.74,362.2 C 1020.9,362.2 1020.9,372.18 1016.95,372.18 M 1026.52,362.2 L 1030.06,362.2 C 1032.34,362.2 1033.38,364.28 1033.38,366.78 C 1033.38,369.69 1031.72,371.77 1028.81,371.77 M 1028.81,371.77 C 1032.14,371.77 1033.8,374.06 1033.8,377.38 C 1033.8,381.34 1032.14,383 1030.06,383 L 1026.52,383"/>
<path class="tx" d="M 1013,399.2 L 1013,420 L 1017.16,420 C 1021.74,420 1021.74,409.18 1016.95,409.18 L 1013,409.18 M 1013,399.2 L 1016.74,399.2 C 1020.9,399.2 1020.9,409.18 1016.95,409.18 M 1026.1,403.36 C 1026.73,400.45 1028.18,399.2 1029.64,399.2 C 1031.72,399.2 1032.97,400.86 1032.97,403.36 C 1032.97,406.06 1028.18,414.8 1026.1,419.79 L 1032.97,419.79"/>
<path class="tx" d="M 1015.4,436.4 L 1015.4,456.6 L 1019.44,456.6 C 1023.88,456.6 1023.88,446.1 1019.24,446.1 L 1015.4,446.1 M 1015.4,436.4 L 1019.04,436.4 C 1023.08,436.4 1023.08,446.1 1019.24,446.1 M 1028.13,440.84 L 1031.36,436.4 L 1031.36,456.6"/>
<polygon points="477.4,524 507.13,528.71 533.94,542.37 555.23,563.66 568.89,590.47 573.6,620.2 568.89,649.93 555.23,676.74 533.94,698.03 507.13,711.69 477.4,716.4 447.67,711.69 420.86,698.03 399.57,676.74 385.91,649.93 381.2,620.2 385.91,590.47 399.57,563.66 420.86,542.37 447.67,528.71"/>
<polygon points="477.4,539.5 490.02,540.49 502.34,543.45 514.04,548.3 524.83,554.91 534.46,563.14 542.69,572.77 549.3,583.56 554.15,595.26 557.11,607.58 558.1,620.2 557.11,632.82 554.15,645.14 549.3,656.84 542.69,667.63 534.46,677.26 524.83,685.49 514.04,692.1 502.34,696.95 490.02,699.91 477.4,700.9 464.78,699.91 452.46,696.95 440.76,692.1 429.97,685.49 420.34,677.26 412.11,667.63 405.5,656.84 400.65,645.14 397.69,632.82 396.7,620.2 397.69,607.58 400.65,595.26 405.5,583.56 412.11,572.77 420.34,563.14 429.97,554.91 440.76,548.3 452.46,543.45 464.78,540.49" stroke-dasharray="22 4 4 4"/>
<polygon points="477.4,550.4 498.97,553.82 518.43,563.73 533.87,579.17 543.78,598.63 547.2,620.2 543.78,641.77 533.87,661.23 518.43,676.67 498.97,686.58 477.4,690 455.83,686.58 436.37,676.67 420.93,661.23 411.02,641.77 407.6,620.2 411.02,598.63 420.93,579.17 436.37,563.73 455.83,553.82"/>
<polygon points="477.4,559 496.31,562 513.37,570.69 526.91,584.23 535.6,601.29 538.6,620.2 535.6,639.11 526.91,656.17 513.37,669.71 496.31,678.4 477.4,681.4 458.49,678.4 441.43,669.71 427.89,656.17 419.2,639.11 416.2,620.2 419.2,601.29 427.89,584.23 441.43,570.69 458.49,562"/>
<polygon points="518.4,620.2 515.28,635.89 506.39,649.19 493.09,658.08 477.4,661.2 461.71,658.08 448.41,649.19 439.52,635.89 436.4,620.2 439.52,604.51 448.41,591.21 461.71,582.32 477.4,579.2 493.09,582.32 506.39,591.21 515.28,604.51"/>
<line x1="363.7" y1="620.5" x2="590.8" y2="620.5" stroke-dasharray="46 5 6 5" stroke-dashoffset="0"/>
<line x1="477.5" y1="504.8" x2="477.5" y2="734.4" stroke-dasharray="46 5 6 5" stroke-dashoffset="0"/>
<polygon points="430.17,562.57 427.12,569.92 419.77,572.97 412.42,569.92 409.37,562.57 412.42,555.22 419.77,552.17 427.12,555.22" style="fill:#fff"/>
<line x1="431.79" y1="574.59" x2="407.75" y2="550.55" style="stroke-width:0.9"/>
<line x1="416.94" y1="565.4" x2="422.6" y2="559.74" style="stroke-width:0.9"/>
<polygon points="545.43,562.57 542.38,569.92 535.03,572.97 527.68,569.92 524.63,562.57 527.68,555.22 535.03,552.17 542.38,555.22" style="fill:#fff"/>
<line x1="523.01" y1="574.59" x2="547.05" y2="550.55" style="stroke-width:0.9"/>
<line x1="532.2" y1="559.74" x2="537.86" y2="565.4" style="stroke-width:0.9"/>
<polygon points="545.43,677.83 542.38,685.18 535.03,688.23 527.68,685.18 524.63,677.83 527.68,670.48 535.03,667.43 542.38,670.48" style="fill:#fff"/>
<line x1="523.01" y1="665.81" x2="547.05" y2="689.85" style="stroke-width:0.9"/>
<line x1="537.86" y1="675" x2="532.2" y2="680.66" style="stroke-width:0.9"/>
<polygon points="430.17,677.83 427.12,685.18 419.77,688.23 412.42,685.18 409.37,677.83 412.42,670.48 419.77,667.43 427.12,670.48" style="fill:#fff"/>
<line x1="431.79" y1="665.81" x2="407.75" y2="689.85" style="stroke-width:0.9"/>
<line x1="422.6" y1="680.66" x2="416.94" y2="675" style="stroke-width:0.9"/>
<path d="M394.3,515.5 L412.1,515.5 L514.2,679.7"/>
<polygon class="fa" points="444.5,564 450.7,570.74 447.82,572.54"/>
<polygon class="fa" points="510.4,675.7 504.2,668.96 507.08,667.16"/>
<path class="tx" d="M 400.53,491.5 L 394.3,491.5 L 394.3,511.6 L 400.53,511.6 M 394.3,500.34 L 399.53,500.34 M 405.15,495.92 L 408.37,491.5 L 408.37,511.6"/>
<path d="M538.7,515.5 L518.9,515.5 L442.8,710.5"/>
<polygon class="fa" points="510.3,538.9 508.57,547.89 505.41,546.64"/>
<polygon class="fa" points="443.6,708.3 445.33,699.31 448.49,700.56"/>
<path class="tx" d="M 530.74,491.5 L 526.92,491.5 C 524.51,491.5 523.1,494.31 523.1,497.53 L 523.1,505.97 C 523.1,509.19 524.51,511.6 526.92,511.6 L 530.74,511.6 L 530.74,500.34 L 528.12,500.34 M 535.36,495.92 L 538.58,491.5 L 538.58,511.6"/>
<path d="M629.3,530.5 L582.2,530.5 L511.4,579.3"/>
<polygon class="fa" points="552,551.5 558.48,545.02 560.39,547.83"/>
<polygon class="fa" points="520.5,573.2 514.02,579.68 512.11,576.87"/>
<path class="tx" d="M 585.3,513.14 L 585.3,526.6 M 585.3,513.14 L 587.75,513.14 C 589.79,513.14 591.42,514.36 591.42,517.42 L 591.42,526.6 M 596.11,510.69 L 599.38,506.2 L 599.38,526.6 M 604.07,519.46 L 610.39,519.46 M 621.2,506.2 L 621.2,526.6 L 617.12,526.6 C 615.7,526.6 615.08,525.17 615.08,523.54 L 615.08,516.4 C 615.08,514.36 616.1,513.14 617.53,513.14 L 621.2,513.14 M 625.9,510.69 L 629.16,506.2 L 629.16,526.6"/>
<path d="M604.7,585.5 L584.7,585.5 L438.2,632.7"/>
<polygon class="fa" points="438.2,632.7 446.25,628.34 447.29,631.58"/>
<polygon class="fa" points="517,608.5 508.95,612.86 507.91,609.62"/>
<path class="tx" d="M 588.5,560.4 L 588.5,581.4 L 591.86,581.4 C 594.8,581.4 596.27,578.25 596.27,574.05 L 596.27,567.75 C 596.27,563.55 594.8,560.4 591.86,560.4 Z M 601.1,565.02 L 604.46,560.4 L 604.46,581.4"/>
<path d="M609.7,671.5 L592.2,671.5 L403.5,588.1"/>
<polygon class="fa" points="403.5,588.1 412.42,590.16 411.06,593.28"/>
<polygon class="fa" points="548.8,651.7 539.88,649.64 541.24,646.52"/>
<path class="tx" d="M 601.76,646.4 L 595.5,646.4 L 595.5,666.6 M 595.5,655.29 L 601.56,655.29 M 606.41,650.84 L 609.64,646.4 L 609.64,666.6"/>
<polygon points="860.4,522.9 890.25,527.63 917.18,541.35 938.55,562.72 952.27,589.65 957,619.5 952.27,649.35 938.55,676.28 917.18,697.65 890.25,711.37 860.4,716.1 830.55,711.37 803.62,697.65 782.25,676.28 768.53,649.35 763.8,619.5 768.53,589.65 782.25,562.72 803.62,541.35 830.55,527.63"/>
<polygon points="860.4,540.1 872.82,541.08 884.94,543.99 896.45,548.75 907.07,555.26 916.54,563.36 924.64,572.83 931.15,583.45 935.91,594.96 938.82,607.08 939.8,619.5 938.82,631.92 935.91,644.04 931.15,655.55 924.64,666.17 916.54,675.64 907.07,683.74 896.45,690.25 884.94,695.01 872.82,697.92 860.4,698.9 847.98,697.92 835.86,695.01 824.35,690.25 813.73,683.74 804.26,675.64 796.16,666.17 789.65,655.55 784.89,644.04 781.98,631.92 781,619.5 781.98,607.08 784.89,594.96 789.65,583.45 796.16,572.83 804.26,563.36 813.73,555.26 824.35,548.75 835.86,543.99 847.98,541.08" stroke-dasharray="22 4 4 4"/>
<polygon points="860.4,551.7 881.35,555.02 900.25,564.65 915.25,579.65 924.88,598.55 928.2,619.5 924.88,640.45 915.25,659.35 900.25,674.35 881.35,683.98 860.4,687.3 839.45,683.98 820.55,674.35 805.55,659.35 795.92,640.45 792.6,619.5 795.92,598.55 805.55,579.65 820.55,564.65 839.45,555.02"/>
<polygon points="860.4,559.1 879.06,562.06 895.9,570.64 909.26,584 917.84,600.84 920.8,619.5 917.84,638.16 909.26,655 895.9,668.36 879.06,676.94 860.4,679.9 841.74,676.94 824.9,668.36 811.54,655 802.96,638.16 800,619.5 802.96,600.84 811.54,584 824.9,570.64 841.74,562.06"/>
<polygon points="891.1,619.5 888.76,631.25 882.11,641.21 872.15,647.86 860.4,650.2 848.65,647.86 838.69,641.21 832.04,631.25 829.7,619.5 832.04,607.75 838.69,597.79 848.65,591.14 860.4,588.8 872.15,591.14 882.11,597.79 888.76,607.75"/>
<line x1="745" y1="619.5" x2="974.6" y2="619.5" stroke-dasharray="46 5 6 5" stroke-dashoffset="0"/>
<line x1="860.5" y1="507.8" x2="860.5" y2="733.2" stroke-dasharray="46 5 6 5" stroke-dashoffset="0"/>
<polygon points="813.17,561.87 810.12,569.22 802.77,572.27 795.42,569.22 792.37,561.87 795.42,554.52 802.77,551.47 810.12,554.52" style="fill:#fff"/>
<line x1="814.79" y1="573.89" x2="790.75" y2="549.85" style="stroke-width:0.9"/>
<line x1="799.94" y1="564.7" x2="805.6" y2="559.04" style="stroke-width:0.9"/>
<polygon points="928.43,561.87 925.38,569.22 918.03,572.27 910.68,569.22 907.63,561.87 910.68,554.52 918.03,551.47 925.38,554.52" style="fill:#fff"/>
<line x1="906.01" y1="573.89" x2="930.05" y2="549.85" style="stroke-width:0.9"/>
<line x1="915.2" y1="559.04" x2="920.86" y2="564.7" style="stroke-width:0.9"/>
<polygon points="928.43,677.13 925.38,684.48 918.03,687.53 910.68,684.48 907.63,677.13 910.68,669.78 918.03,666.73 925.38,669.78" style="fill:#fff"/>
<line x1="906.01" y1="665.11" x2="930.05" y2="689.15" style="stroke-width:0.9"/>
<line x1="920.86" y1="674.3" x2="915.2" y2="679.96" style="stroke-width:0.9"/>
<polygon points="813.17,677.13 810.12,684.48 802.77,687.53 795.42,684.48 792.37,677.13 795.42,669.78 802.77,666.73 810.12,669.78" style="fill:#fff"/>
<line x1="814.79" y1="665.11" x2="790.75" y2="689.15" style="stroke-width:0.9"/>
<line x1="805.6" y1="679.96" x2="799.94" y2="674.3" style="stroke-width:0.9"/>
<path d="M781.7,519.5 L805,519.5 L895.2,677.3"/>
<polygon class="fa" points="830.6,563.6 836.42,570.67 833.44,572.31"/>
<polygon class="fa" points="894.1,675.5 888.28,668.43 891.26,666.79"/>
<path class="tx" d="M 789.04,494.4 L 782.5,494.4 L 782.5,515.5 L 789.04,515.5 M 782.5,503.68 L 787.99,503.68 M 793.89,498.62 C 794.53,495.67 796,494.4 797.48,494.4 C 799.59,494.4 800.86,496.09 800.86,498.62 C 800.86,501.36 796,510.22 793.89,515.29 L 800.86,515.29"/>
<path d="M918.7,512.5 L894.3,512.5 L832.4,712.6"/>
<polygon class="fa" points="889.2,528.8 888.11,537.89 884.87,536.87"/>
<polygon class="fa" points="832.6,712 833.69,702.91 836.93,703.93"/>
<path class="tx" d="M 906.49,487.2 L 902.45,487.2 C 899.89,487.2 898.4,490.18 898.4,493.59 L 898.4,502.54 C 898.4,505.94 899.89,508.5 902.45,508.5 L 906.49,508.5 L 906.49,496.57 L 903.73,496.57 M 911.39,491.46 C 912.03,488.48 913.52,487.2 915.01,487.2 C 917.14,487.2 918.42,488.9 918.42,491.46 C 918.42,494.23 913.52,503.18 911.39,508.29 L 918.42,508.29"/>
<path d="M1008.6,513.5 L953,513.5 L900.9,587.2"/>
<polygon class="fa" points="931.4,546.5 935.21,538.17 937.98,540.13"/>
<polygon class="fa" points="906.5,579.3 902.69,587.63 899.92,585.67"/>
<path class="tx" d="M 956.4,495.14 L 956.4,508.8 M 956.4,495.14 L 958.88,495.14 C 960.95,495.14 962.61,496.38 962.61,499.49 L 962.61,508.8 M 967.37,492.24 C 967.99,489.34 969.44,488.1 970.89,488.1 C 972.96,488.1 974.2,489.76 974.2,492.24 C 974.2,494.93 969.44,503.62 967.37,508.59 L 974.2,508.59 M 979.17,501.56 L 985.59,501.56 M 996.56,488.1 L 996.56,508.8 L 992.42,508.8 C 990.97,508.8 990.35,507.35 990.35,505.7 L 990.35,498.45 C 990.35,496.38 991.38,495.14 992.83,495.14 L 996.56,495.14 M 1001.32,492.24 C 1001.94,489.34 1003.39,488.1 1004.84,488.1 C 1006.91,488.1 1008.15,489.76 1008.15,492.24 C 1008.15,494.93 1003.39,503.62 1001.32,508.59 L 1008.15,508.59"/>
<path d="M992.8,571.5 L968,571.5 L831.8,631.4"/>
<polygon class="fa" points="831.8,631.4 839.32,626.17 840.71,629.27"/>
<polygon class="fa" points="889,606.3 881.48,611.53 880.09,608.43"/>
<path class="tx" d="M 972.5,546.4 L 972.5,567.4 L 975.86,567.4 C 978.8,567.4 980.27,564.25 980.27,560.05 L 980.27,553.75 C 980.27,549.55 978.8,546.4 975.86,546.4 Z M 985.1,550.6 C 985.73,547.66 987.2,546.4 988.67,546.4 C 990.77,546.4 992.03,548.08 992.03,550.6 C 992.03,553.33 987.2,562.15 985.1,567.19 L 992.03,567.19"/>
<path d="M994.8,668.5 L972.1,668.5 L787.3,589.3"/>
<polygon class="fa" points="787.3,589.3 796.25,591.26 794.91,594.39"/>
<polygon class="fa" points="932.5,650.7 923.55,648.74 924.89,645.61"/>
<path class="tx" d="M 982.07,643.4 L 975.5,643.4 L 975.5,664.6 M 975.5,652.73 L 981.86,652.73 M 986.95,647.64 C 987.58,644.67 989.07,643.4 990.55,643.4 C 992.67,643.4 993.94,645.1 993.94,647.64 C 993.94,650.4 989.07,659.3 986.95,664.39 L 993.94,664.39"/>
<path class="tx" d="M887.4,233.6 L887.4,256.3 M883.2,237.6 L883.2,247.5 M883.2,245.6 L892.4,245.6 M892.4,237.2 L892.4,257.5 M882.4,249 L882.4,257.2 L892.4,256.7"/>
<path class="tx" d="M899.4,234.2 L899.4,257.7 M899.4,235.3 L911.5,233.8 L911.5,255.6 M899.4,256 L910.6,255.4"/>
<path class="tx" d="M1178.4,236.3 L1180.7,239.7 M1176.5,245.6 L1181.5,244.5 M1180.3,244.9 L1180.3,254 M1176.9,254.4 L1181,254.4 L1185.3,255.9 L1190.6,258.6 L1194.4,257.3"/>
<path class="tx" d="M1185.5,233 L1185.5,246 Q1185,251 1183,253.6 M1189.5,232.3 L1189.5,255.6 M1183,240.5 L1192.9,239.3 M1182.6,246.8 L1193.7,245.2"/>
<path class="tx" d="M1197.3,234.5 L1197.3,257.5 M1197.3,235.3 L1209.7,234.5 M1208.6,233.2 L1208.6,256.7 M1197.3,256 L1208.6,255.3"/>
<line x1="130.2" y1="835.5" x2="1260" y2="835.5"/>
<line x1="130.2" y1="874.5" x2="1260" y2="874.5"/>
<line x1="130.2" y1="899.5" x2="1260" y2="899.5"/>
<line x1="130.5" y1="834.8" x2="130.5" y2="900"/>
<line x1="444.5" y1="834.8" x2="444.5" y2="900"/>
<line x1="851.5" y1="834.8" x2="851.5" y2="900"/>
<line x1="1259.5" y1="834.8" x2="1259.5" y2="900"/>
<path class="cj" d="M267,850.2 L278.6,849.4 M271.2,850.4 L266.3,855.2 M269.7,852.3 L276.7,852.3 L276.7,854.7 L269.7,854.7 M267.1,857.3 L272,857.3 M272.4,854.9 L272.4,861.6 L271,861.2 M272,857.8 L266.4,861.8 M273,857.4 L277.6,856.2 M273,857.6 L279,861"/>
<path class="cj" d="M282.4,850.2 L289.4,850.2 M281.9,853.1 L289.4,853.1 M284.4,850.2 L284.4,854 L282,857.6 M287.4,850.2 L287.4,856.5 M290.5,851 L290.5,854.4 M293.4,849.3 L293.4,856.5 L292.3,856 M283.2,859.4 L292.2,859.4 M287.8,857 L287.8,861.5 M282,861.5 L294.4,861.5"/>
<path class="cj" d="M299,849.3 L306.8,849.3 L306.8,853.5 L299,853.5 Z M296.6,854.6 L309,854.6 M300.4,855.3 L300,857.2 L306.8,857.2 Q306.4,861.2 303.5,861.4"/>
<text class="ts" x="269.2" y="892.1" font-size="15">70</text>
<text class="ts" x="299.2" y="892.1" font-size="15">2</text>
<path d="M287.2,882.4 L296.3,891 M296.3,882.4 L287.2,891" style="stroke:#444;stroke-width:0.85"/>
<text class="ts" x="527.1" y="860.1" font-size="15">D1</text>
<text class="ts" x="568.8" y="860.1" font-size="15">E1</text>
<text class="ts" x="620" y="860.1" font-size="15">F1</text>
<text class="ts" x="670.3" y="860.1" font-size="15">G1</text>
<text class="ts" x="711.7" y="860.1" font-size="15">11</text>
<text class="ts" x="741.5" y="860.1" font-size="15">n1-d1</text>
<text class="ts" x="930.1" y="860.1" font-size="15">D2</text>
<text class="ts" x="975.6" y="860.1" font-size="15">E2</text>
<text class="ts" x="1025.6" y="860.1" font-size="15">F2</text>
<text class="ts" x="1073.3" y="860.1" font-size="15">G2</text>
<text class="ts" x="1111.1" y="860.1" font-size="15">12</text>
<text class="ts" x="1144.3" y="860.1" font-size="15">n2-d2</text>
<line x1="526.85" y1="881.4" x2="526.85" y2="892.6" style="stroke-width:1.1"/>
<ellipse cx="526.85" cy="886.8" rx="3.55" ry="2.55" style="stroke-width:0.95;fill:none;stroke:#000"/>
<text class="ts" x="534.7" y="892.1" font-size="15">100</text>
<line x1="568.25" y1="881.4" x2="568.25" y2="892.6" style="stroke-width:1.1"/>
<ellipse cx="568.25" cy="886.8" rx="3.55" ry="2.55" style="stroke-width:0.95;fill:none;stroke:#000"/>
<text class="ts" x="576.1" y="892.1" font-size="15">140</text>
<line x1="617.55" y1="881.4" x2="617.55" y2="892.6" style="stroke-width:1.1"/>
<ellipse cx="617.55" cy="886.8" rx="3.55" ry="2.55" style="stroke-width:0.95;fill:none;stroke:#000"/>
<text class="ts" x="625.4" y="892.1" font-size="15">170</text>
<line x1="667.45" y1="881.4" x2="667.45" y2="892.6" style="stroke-width:1.1"/>
<ellipse cx="667.45" cy="886.8" rx="3.55" ry="2.55" style="stroke-width:0.95;fill:none;stroke:#000"/>
<text class="ts" x="675.3" y="892.1" font-size="15">205</text>
<text class="ts" x="708.6" y="892.1" font-size="15">18</text>
<text class="ts" x="734.4" y="892.1" font-size="15">4-</text>
<line x1="754.15" y1="881.4" x2="754.15" y2="892.6" style="stroke-width:1.1"/>
<ellipse cx="754.15" cy="886.8" rx="3.55" ry="2.55" style="stroke-width:0.95;fill:none;stroke:#000"/>
<text class="ts" x="762" y="892.1" font-size="15">18</text>
<line x1="931.95" y1="881.4" x2="931.95" y2="892.6" style="stroke-width:1.1"/>
<ellipse cx="931.95" cy="886.8" rx="3.55" ry="2.55" style="stroke-width:0.95;fill:none;stroke:#000"/>
<text class="ts" x="939.8" y="892.1" font-size="15">65</text>
<line x1="969.55" y1="881.4" x2="969.55" y2="892.6" style="stroke-width:1.1"/>
<ellipse cx="969.55" cy="886.8" rx="3.55" ry="2.55" style="stroke-width:0.95;fill:none;stroke:#000"/>
<text class="ts" x="977.4" y="892.1" font-size="15">120</text>
<line x1="1019.45" y1="881.4" x2="1019.45" y2="892.6" style="stroke-width:1.1"/>
<ellipse cx="1019.45" cy="886.8" rx="3.55" ry="2.55" style="stroke-width:0.95;fill:none;stroke:#000"/>
<text class="ts" x="1027.3" y="892.1" font-size="15">145</text>
<line x1="1068.15" y1="881.4" x2="1068.15" y2="892.6" style="stroke-width:1.1"/>
<ellipse cx="1068.15" cy="886.8" rx="3.55" ry="2.55" style="stroke-width:0.95;fill:none;stroke:#000"/>
<text class="ts" x="1076" y="892.1" font-size="15">180</text>
<text class="ts" x="1112.8" y="892.1" font-size="15">20</text>
<text class="ts" x="1143.8" y="892.1" font-size="15">4-</text>
<line x1="1163.55" y1="881.4" x2="1163.55" y2="892.6" style="stroke-width:1.1"/>
<ellipse cx="1163.55" cy="886.8" rx="3.55" ry="2.55" style="stroke-width:0.95;fill:none;stroke:#000"/>
<text class="ts" x="1171.4" y="892.1" font-size="15">18</text>
<line x1="129.9" y1="943.5" x2="1071" y2="943.5"/>
<line x1="129.9" y1="998.5" x2="1071" y2="998.5"/>
<line x1="129.9" y1="1031.5" x2="1071" y2="1031.5"/>
<line x1="130.5" y1="942.5" x2="130.5" y2="1032.3"/>
<line x1="485.5" y1="942.5" x2="485.5" y2="1032.3"/>
<line x1="798.5" y1="942.5" x2="798.5" y2="1032.3"/>
<line x1="944.5" y1="942.5" x2="944.5" y2="1032.3"/>
<line x1="1070.5" y1="942.5" x2="1070.5" y2="1032.3"/>
<text class="ts" x="142.9" y="977.1" font-size="18">L1</text>
<text class="ts" x="192.9" y="977.1" font-size="18">L2</text>
<text class="ts" x="239.1" y="977.1" font-size="18">L3</text>
<text class="ts" x="284.6" y="977.1" font-size="18">L4</text>
<text class="ts" x="330.9" y="977.1" font-size="18">L5</text>
<text class="ts" x="376.4" y="977.1" font-size="18">L6</text>
<text class="ts" x="427.1" y="977.1" font-size="18">L7</text>
<text class="ts" x="498.1" y="977.1" font-size="18">B1</text>
<text class="ts" x="549.2" y="977.1" font-size="18">B2</text>
<text class="ts" x="600.3" y="977.1" font-size="18">B3</text>
<text class="ts" x="646.5" y="977.1" font-size="18">B4</text>
<text class="ts" x="692.8" y="977.1" font-size="18">B5</text>
<text class="ts" x="744.6" y="977.1" font-size="18">B6</text>
<text class="ts" x="817.5" y="977.1" font-size="18">H1</text>
<text class="ts" x="861.2" y="977.1" font-size="18">H2</text>
<text class="ts" x="904.9" y="977.1" font-size="18">H3</text>
<text class="ts" x="995.9" y="977.1" font-size="18">n-d</text>
<text class="ts" x="143.7" y="1019.2" font-size="18">1073</text>
<text class="ts" x="190.7" y="1019.2" font-size="18">940</text>
<text class="ts" x="238.9" y="1019.2" font-size="18">630</text>
<text class="ts" x="283.5" y="1019.2" font-size="18">160</text>
<text class="ts" x="335.3" y="1019.2" font-size="18">36</text>
<text class="ts" x="379.5" y="1019.2" font-size="18">140</text>
<text class="ts" x="427.5" y="1019.2" font-size="18">65</text>
<text class="ts" x="497.7" y="1019.2" font-size="18">435</text>
<text class="ts" x="541.4" y="1019.2" font-size="18">375</text>
<text class="ts" x="589.7" y="1019.2" font-size="18">375</text>
<text class="ts" x="643.1" y="1019.2" font-size="18">170</text>
<text class="ts" x="691.3" y="1019.2" font-size="18">170</text>
<text class="ts" x="742.1" y="1019.2" font-size="18">210</text>
<text class="ts" x="810.6" y="1019.2" font-size="18">443</text>
<text class="ts" x="855" y="1019.2" font-size="18">260</text>
<text class="ts" x="902.5" y="1019.2" font-size="18">35</text>
<text class="ts" x="982.4" y="1016.2" font-size="18">4-</text>
<line x1="1006.58" y1="1003.36" x2="1006.58" y2="1016.8" style="stroke-width:1.32"/>
<ellipse cx="1006.58" cy="1009.84" rx="4.26" ry="3.06" style="stroke-width:1.14;fill:none;stroke:#000"/>
<text class="ts" x="1014.2" y="1016.2" font-size="18">25</text>
<line x1="1004.5" y1="1027.5" x2="1007" y2="1027.5" style="stroke:#aaa;stroke-width:0.8"/>
</svg>
</body></html>
